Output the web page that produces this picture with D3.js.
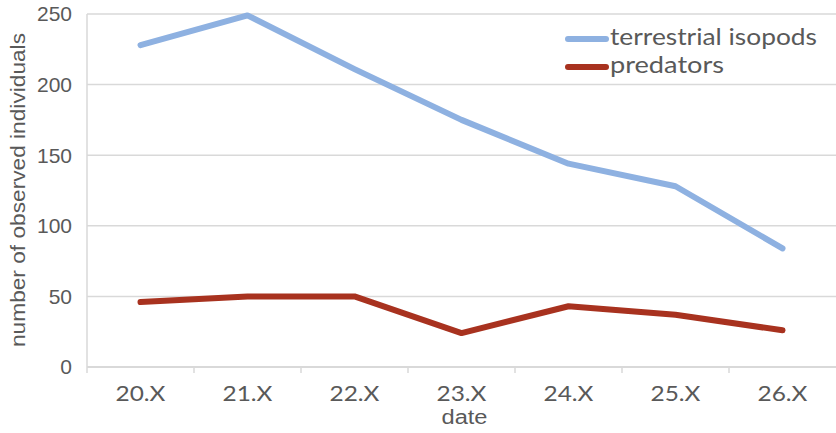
<!DOCTYPE html>
<html>
<head>
<meta charset="utf-8">
<script src="https://cdn.jsdelivr.net/npm/d3@7"></script>
<style>
  html, body { margin: 0; padding: 0; background: #fff; }
  svg { display: block; }
</style>
</head>
<body>
<svg id="chart" width="836" height="433"></svg>
<script>
// Observation dates (October)
const dates = ["20.X", "21.X", "22.X", "23.X", "24.X", "25.X", "26.X"];
// Number of observed individuals per date
const isopods = [228, 249, 211, 175, 144, 128, 84];
const predators = [46, 50, 50, 24, 43, 37, 26];
const yTicks = [0, 50, 100, 150, 200, 250];

const seriesNames = ["terrestrial isopods", "predators"];
const seriesColors = ["#8eb1e1", "#a8321f"];

const svg = d3.select("#chart");
const margin = { left: 87, right: 0, top: 14, bottom: 66 };
const W = 836, H = 433;

const x = d3.scaleBand().domain(dates).range([margin.left, W - margin.right]);
const y = d3.scaleLinear().domain([0, 250]).range([H - margin.bottom, margin.top]);

const gridColor = "#d9d9d9";
const textColor = "#595959";

// Horizontal gridlines
svg.append("g").selectAll("line").data(yTicks.filter(d => d > 0)).join("line")
  .attr("x1", margin.left).attr("x2", W)
  .attr("y1", d => y(d)).attr("y2", d => y(d))
  .attr("stroke", gridColor).attr("stroke-width", 1.5);

// Left axis line
svg.append("line")
  .attr("x1", margin.left).attr("x2", margin.left)
  .attr("y1", y(250)).attr("y2", y(0))
  .attr("stroke", gridColor).attr("stroke-width", 1.5);

// Bottom axis with band-boundary ticks
const xAxis = svg.append("g").attr("transform", `translate(0,${y(0)})`);
xAxis.append("line").attr("x1", margin.left).attr("x2", W)
  .attr("stroke", gridColor).attr("stroke-width", 2);
xAxis.selectAll("line.tick").data(dates).join("line").attr("class", "tick")
  .attr("x1", d => x(d)).attr("x2", d => x(d))
  .attr("y1", 0).attr("y2", 6)
  .attr("stroke", gridColor).attr("stroke-width", 1.5);
xAxis.selectAll("text").data(dates).join("text")
  .attr("x", d => x(d) + x.bandwidth() / 2)
  .attr("y", 34)
  .attr("text-anchor", "middle")
  .attr("font-family", "Lato, 'Open Sans', sans-serif")
  .attr("font-size", 22)
  .attr("textLength", 50)
  .attr("lengthAdjust", "spacingAndGlyphs")
  .attr("fill", textColor)
  .text(d => d);

// Y tick labels
svg.append("g").selectAll("text").data(yTicks).join("text")
  .attr("x", 72)
  .attr("y", d => y(d))
  .attr("dy", "0.35em")
  .attr("text-anchor", "end")
  .attr("font-family", "'Liberation Sans', Arial, sans-serif")
  .attr("font-size", 21)
  .attr("fill", textColor)
  .text(d => d);

// Axis titles
svg.append("text")
  .attr("transform", `translate(25,190) rotate(-90)`)
  .attr("text-anchor", "middle")
  .attr("font-family", "'Liberation Sans', Arial, sans-serif")
  .attr("font-size", 20)
  .attr("textLength", 314)
  .attr("lengthAdjust", "spacingAndGlyphs")
  .attr("fill", textColor)
  .text("number of observed individuals");

svg.append("text")
  .attr("x", (margin.left + W) / 2 + 3)
  .attr("y", 424)
  .attr("text-anchor", "middle")
  .attr("font-family", "'Liberation Sans', Arial, sans-serif")
  .attr("font-size", 20)
  .attr("textLength", 46)
  .attr("lengthAdjust", "spacingAndGlyphs")
  .attr("fill", textColor)
  .text("date");

// Lines
const line = d3.line()
  .x((d, i) => x(dates[i]) + x.bandwidth() / 2)
  .y(d => y(d));

[isopods, predators].forEach((vals, k) => {
  svg.append("path")
    .datum(vals)
    .attr("d", line)
    .attr("fill", "none")
    .attr("stroke", seriesColors[k])
    .attr("stroke-width", 6)
    .attr("stroke-linecap", "round")
    .attr("stroke-linejoin", "round");
});

// Legend
const legendWidths = [207, 114];
const legend = svg.append("g").attr("transform", "translate(568,39)");
seriesNames.forEach((name, k) => {
  const g = legend.append("g").attr("transform", `translate(0,${k * 28})`);
  g.append("line").attr("x1", 0).attr("x2", 38)
    .attr("stroke", seriesColors[k]).attr("stroke-width", 6)
    .attr("stroke-linecap", "round");
  g.append("text").attr("x", 42).attr("y", -1).attr("dy", "0.32em")
    .attr("font-family", "Lato, 'Open Sans', sans-serif")
    .attr("font-size", 23)
    .attr("textLength", legendWidths[k])
    .attr("lengthAdjust", "spacingAndGlyphs")
    .attr("fill", textColor)
    .text(name);
});
</script>
</body>
</html>
